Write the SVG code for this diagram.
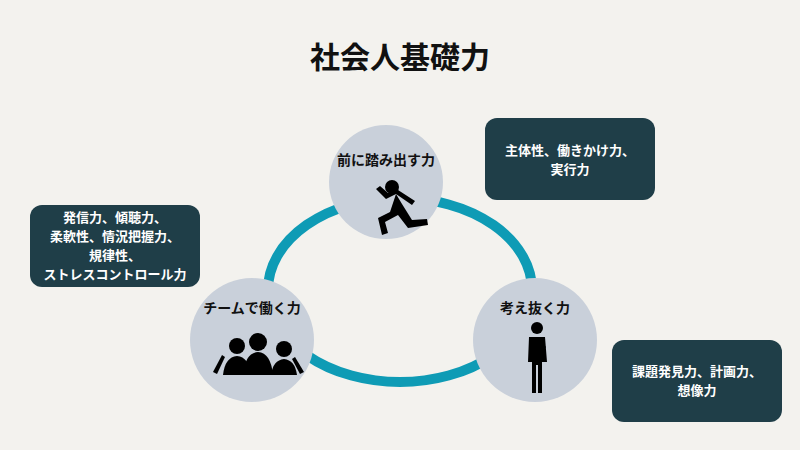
<svg xmlns="http://www.w3.org/2000/svg" width="800" height="450" viewBox="0 0 800 450">
<style>
text{font-family:"Noto Sans CJK JP","Noto Sans",sans-serif;font-weight:700;text-anchor:middle}
.c{fill:#C9D0DA}
.b{fill:#1F3E48}
.bt{fill:#fff;font-size:13px}
.ct{fill:#111;font-size:14px}
</style>
<rect width="800" height="450" fill="#F3F2EE"/>
<text x="400" y="68" font-size="30" fill="#111">社会人基礎力</text>
<g id="connectors"><ellipse cx="400" cy="290" rx="132" ry="92" fill="none" stroke="#0E9BB5" stroke-width="10"/></g>
<g id="n1"><circle class="c" cx="386" cy="182" r="57"/><text class="ct" x="386" y="165">前に踏み出す力</text>
<g fill="#000"><circle cx="392" cy="187" r="7"/><path d="M376 189 L386 199 L396 194 L412 205 L415 201 L398 190 L388 193 L380 186Z"/><path d="M396 194 L390 212 L378 218 L382 235 L388 233 L385 222 L398 215 L408 228 L428 225 L427 219 L412 220 L402 204Z"/></g></g>
<g id="n2"><circle class="c" cx="252" cy="340" r="62"/><text class="ct" x="252" y="313">チームで働く力</text>
<g fill="#000"><circle cx="237" cy="346" r="8"/><circle cx="258" cy="342" r="9"/><circle cx="284" cy="349" r="8"/>
<path d="M223 375 Q225 357 237 356 Q249 357 251 375Z"/><path d="M243 375 Q245 353 258 352 Q271 353 273 375Z"/><path d="M271 375 Q273 360 284 359 Q295 360 297 375Z"/>
<path d="M213 372 L222 355 L225 357 L217 374Z"/><path d="M304 372 L295 357 L292 359 L300 374Z"/></g></g>
<g id="n3"><circle class="c" cx="535" cy="340" r="62"/><text class="ct" x="535" y="313">考え抜く力</text>
<g fill="#000"><circle cx="537" cy="328" r="6"/><path d="M529 337 L545 337 L547 362 L542 362 L542 393 L538 393 L538 365 L536 365 L536 393 L532 393 L532 362 L528 362Z"/><path d="M531 344 L542 352 L546 347 L544 345 L541 348 L533 341Z"/></g></g>
<g id="b1"><rect class="b" x="485" y="118" width="170" height="82" rx="12"/><text class="bt" x="570" y="155">主体性、働きかけ力、</text><text class="bt" x="570" y="174">実行力</text></g>
<g id="b2"><rect class="b" x="30" y="205" width="170" height="82" rx="12"/><text class="bt" x="115" y="222">発信力、傾聴力、</text><text class="bt" x="115" y="241">柔軟性、情況把握力、</text><text class="bt" x="115" y="260">規律性、</text><text class="bt" x="115" y="279">ストレスコントロール力</text></g>
<g id="b3"><rect class="b" x="612" y="340" width="170" height="82" rx="12"/><text class="bt" x="697" y="376">課題発見力、計画力、</text><text class="bt" x="697" y="395">想像力</text></g>
</svg>
